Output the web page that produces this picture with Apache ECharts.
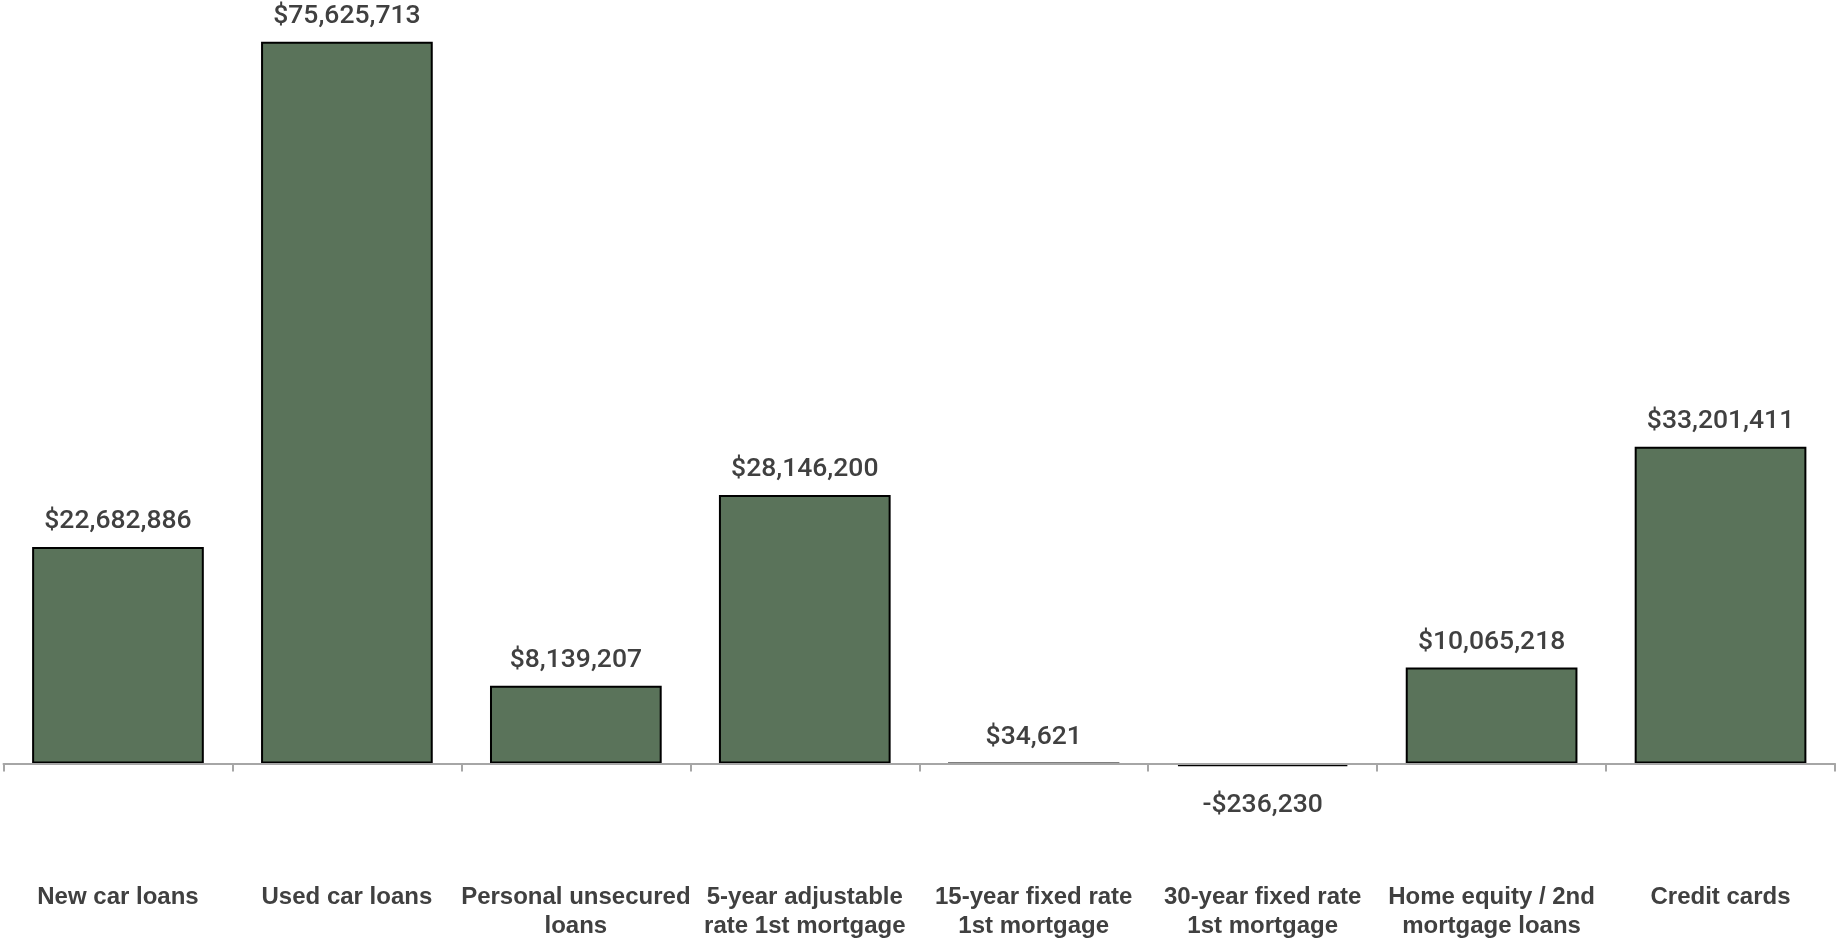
<!DOCTYPE html>
<html>
<head>
<meta charset="utf-8">
<script src="https://cdn.jsdelivr.net/npm/echarts@6/dist/echarts.min.js"></script>
<style>
html,body{margin:0;padding:0;background:#fff;}
#chart{width:1839px;height:941px;}
</style>
</head>
<body>
<div id="chart"></div>
<script>
const categories = [
  "New car loans",
  "Used car loans",
  "Personal unsecured\nloans",
  "5-year adjustable\nrate 1st mortgage",
  "15-year fixed rate\n1st mortgage",
  "30-year fixed rate\n1st mortgage",
  "Home equity / 2nd\nmortgage loans",
  "Credit cards"
];
const values = [22682886, 75625713, 8139207, 28146200, 34621, -236230, 10065218, 33201411];

function fmt(v) {
  const s = '$' + Math.abs(v).toLocaleString('en-US');
  return v < 0 ? '-' + s : s;
}

const chart = echarts.init(document.getElementById('chart'), null, {renderer: 'canvas'});
const labelStyle = {
  fontFamily: 'Roboto',
  fontWeight: 500,
  fontSize: 26.5,
  color: '#404040'
};
chart.setOption({
  animation: false,
  grid: {left: 3.5, right: 4, top: 0, bottom: 82, containLabel: false},
  xAxis: [
    {
      type: 'category',
      data: categories,
      z: 3,
      axisLine: {onZero: true, lineStyle: {color: '#A6A6A6', width: 2}},
      axisTick: {show: true, length: 8, lineStyle: {color: '#A6A6A6', width: 2}},
      axisLabel: {show: false}
    },
    {
      type: 'category',
      data: categories,
      position: 'bottom',
      axisLine: {show: false, onZero: false},
      axisTick: {show: false},
      axisLabel: {
        show: true,
        interval: 0,
        margin: 24,
        fontFamily: 'Liberation Sans',
        fontWeight: 'bold',
        fontSize: 24,
        lineHeight: 29,
        color: '#404040',
        align: 'center'
      }
    }
  ],
  yAxis: {
    type: 'value',
    min: -10000000,
    max: 80000000,
    show: false,
    splitLine: {show: false}
  },
  series: [{
    type: 'bar',
    xAxisIndex: 0,
    barWidth: '75%',
    data: values.map(v => ({
      value: v,
      label: v < 0 ? {position: 'bottom', distance: 26} : undefined,
      itemStyle: v < 0 ? {borderWidth: 3} : undefined
    })),
    itemStyle: {color: '#5A735A', borderColor: '#000', borderWidth: 2},
    label: Object.assign({
      show: true,
      position: 'top',
      distance: 12,
      formatter: p => fmt(p.value)
    }, labelStyle)
  }]
});
</script>
</body>
</html>
